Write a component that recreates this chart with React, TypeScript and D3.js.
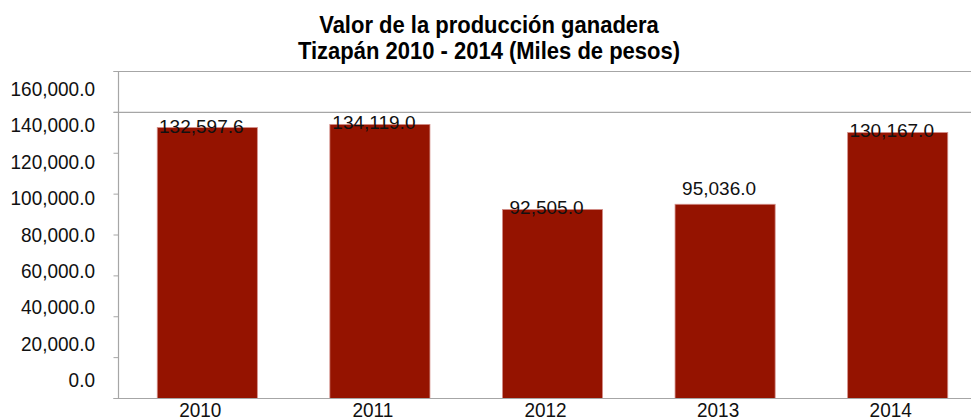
import React from "react";
import * as d3 from "d3";

const years = ["2010", "2011", "2012", "2013", "2014"];
const values = [132597.6, 134119.0, 92505.0, 95036.0, 130167.0];
const yTicks = [0, 20000, 40000, 60000, 80000, 100000, 120000, 140000, 160000];
const gridTicks = [140000, 160000];
const titleLines = ["Valor de la producción ganadera", "Tizapán 2010 - 2014 (Miles de pesos)"];

const W = 971;
const H = 419;
const FONT = "'Liberation Sans', Arial, sans-serif";

export default function App() {
  const axisX = 118.5;
  const x = d3.scaleBand<string>().domain(years).range([121, 984]).paddingInner(0.42).paddingOuter(0.21);
  const y = d3.scaleLinear().domain([0, 160000]).range([398.5, 71.5]);
  // tick labels in the reference are spaced slightly tighter than the ticks
  const yLab = d3.scaleLinear().domain([0, 160000]).range([387, 96]);
  const fmt = d3.format(",.1f");
  const labelDy = (i: number) => (years[i] === "2013" ? -9 : 5);

  return (
    <svg width={W} height={H} style={{ position: "absolute", left: 0, top: 0, background: "#fff" }} fontFamily={FONT}>
      <rect x={0} y={0} width={W} height={H} fill="#fff" />
      {titleLines.map((t, i) => (
        <text key={t} transform={`translate(489,${i === 0 ? 33 : 59}) scale(1,1.1)`} textAnchor="middle" fontWeight="bold" fontSize={22} fill="#000">
          {t}
        </text>
      ))}
      {gridTicks.map((t) => (
        <line key={t} x1={axisX - 5} x2={W} y1={y(t)} y2={y(t)} stroke="#a6a6a6" strokeWidth={1.2} />
      ))}
      {yTicks.map((t) => (
        <line key={"tk" + t} x1={axisX - 5} x2={axisX} y1={y(t)} y2={y(t)} stroke="#a6a6a6" strokeWidth={1} />
      ))}
      {yTicks.map((t) => (
        <text key={"yl" + t} transform={`translate(95,${yLab(t)}) scale(1,1.08)`} textAnchor="end" fontSize={19} fill="#111">
          {fmt(t)}
        </text>
      ))}
      {years.map((yr, i) => (
        <rect
          key={yr}
          x={(x(yr) as number)}
          y={y(values[i])}
          width={x.bandwidth()}
          height={y(0) - y(values[i])}
          fill="#951300"
          stroke="#d4908a"
          strokeWidth={0.8}
        />
      ))}
      <line x1={axisX} x2={axisX} y1={y(160000)} y2={y(0)} stroke="#a6a6a6" strokeWidth={1.2} />
      <line x1={axisX - 5} x2={W} y1={y(0)} y2={y(0)} stroke="#a6a6a6" strokeWidth={1.2} />
      {years.map((yr, i) => (
        <text
          key={"v" + yr}
          x={(x(yr) as number) + x.bandwidth() / 2 - 6}
          y={y(values[i]) + labelDy(i)}
          textAnchor="middle"
          fontSize={19}
          fill="#111"
        >
          {fmt(values[i])}
        </text>
      ))}
      {years.map((yr) => (
        <text
          key={"x" + yr}
          transform={`translate(${(x(yr) as number) + x.bandwidth() / 2 - 7},417) scale(1,1.08)`}
          textAnchor="middle"
          fontSize={19}
          fill="#111"
        >
          {yr}
        </text>
      ))}
    </svg>
  );
}
